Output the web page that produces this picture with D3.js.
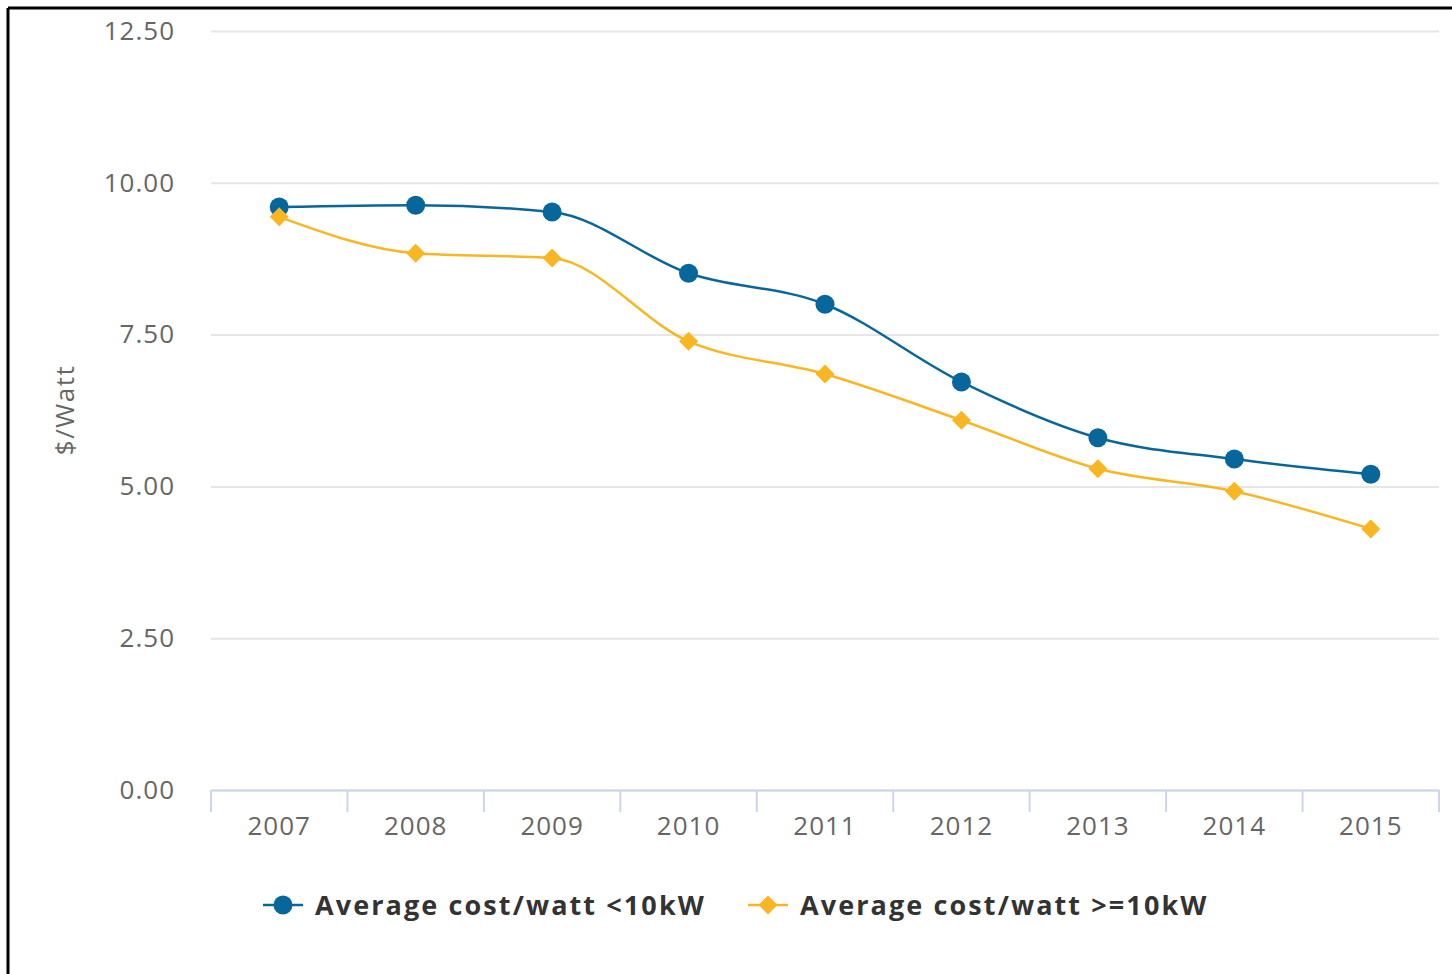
<!DOCTYPE html>
<html>
<head>
<meta charset="utf-8">
<script src="https://cdn.jsdelivr.net/npm/d3@7"></script>
<style>
  html, body { margin: 0; padding: 0; background: #fff; }
  svg { display: block; }
</style>
</head>
<body>
<svg id="chart" width="1452" height="974"></svg>
<script>
const years = ["2007", "2008", "2009", "2010", "2011", "2012", "2013", "2014", "2015"];
const smallSystems = [9.60, 9.63, 9.52, 8.51, 8.00, 6.72, 5.80, 5.45, 5.20];
const largeSystems = [9.44, 8.84, 8.76, 7.39, 6.85, 6.09, 5.29, 4.92, 4.30];
const yTicks = [0, 2.5, 5, 7.5, 10, 12.5];
const seriesNames = ["Average cost/watt <10kW", "Average cost/watt >=10kW"];
const seriesColors = ["#07679a", "#f9b623"];

const svg = d3.select("#chart");
const W = 1452, H = 974;
const plot = { left: 211, right: 1439, top: 31, bottom: 790 };
const font = "'Open Sans', 'DejaVu Sans', sans-serif";

// frame (top and left border)
svg.append("line").attr("x1", 8).attr("x2", W).attr("y1", 8).attr("y2", 8)
  .attr("stroke", "#000").attr("stroke-width", 3);
svg.append("line").attr("x1", 8).attr("x2", 8).attr("y1", 8).attr("y2", H)
  .attr("stroke", "#000").attr("stroke-width", 3);

const x = d3.scaleBand().domain(years).range([plot.left, plot.right]).padding(0);
const y = d3.scaleLinear().domain([0, 12.5]).range([plot.bottom, plot.top]);

// gridlines
const yAxis = d3.axisLeft(y).tickValues(yTicks)
  .tickSize(-(plot.right - plot.left)).tickFormat(d3.format(".2f")).tickPadding(36);
const gy = svg.append("g").attr("transform", `translate(${plot.left},0)`).call(yAxis);
gy.select(".domain").remove();
gy.selectAll(".tick line").attr("stroke", "#e6e6e6").attr("stroke-width", 2);
gy.selectAll(".tick text").attr("fill", "#666").attr("font-family", font)
  .attr("font-size", 26).attr("letter-spacing", 1).attr("dy", "0.32em");

// x axis
const xAxis = d3.axisBottom(x).tickSizeOuter(0).tickSizeInner(0).tickPadding(27);
const gx = svg.append("g").attr("transform", `translate(0,${plot.bottom})`).call(xAxis);
gx.select(".domain").attr("stroke", "#ccd6eb").attr("stroke-width", 2);
gx.selectAll(".tick text").attr("fill", "#666").attr("font-family", font)
  .attr("font-size", 26).attr("letter-spacing", 1);
// category boundary ticks
const bounds = years.map(d => x(d)).concat([x(years[years.length - 1]) + x.bandwidth()]);
svg.append("g").selectAll("line").data(bounds).join("line")
  .attr("x1", d => d).attr("x2", d => d)
  .attr("y1", plot.bottom).attr("y2", plot.bottom + 22)
  .attr("stroke", "#ccd6eb").attr("stroke-width", 2);

// y axis title
svg.append("text")
  .attr("transform", `translate(74,410) rotate(-90)`)
  .attr("text-anchor", "middle").attr("fill", "#666")
  .attr("font-family", font).attr("font-size", 26).attr("letter-spacing", 1.5)
  .text("$/Watt");

const cx = d => x(d) + x.bandwidth() / 2;
const line = d3.line().x((d, i) => cx(years[i])).y(d => y(d)).curve(d3.curveMonotoneX);

const diamond = (s) => `M0,${-s}L${s},0L0,${s}L${-s},0Z`;

// series 2 (orange) drawn first
svg.append("path").datum(largeSystems).attr("d", line)
  .attr("fill", "none").attr("stroke", seriesColors[1]).attr("stroke-width", 2.5);
svg.append("path").datum(smallSystems).attr("d", line)
  .attr("fill", "none").attr("stroke", seriesColors[0]).attr("stroke-width", 2.5);

svg.append("g").selectAll("circle").data(smallSystems).join("circle")
  .attr("cx", (d, i) => cx(years[i])).attr("cy", d => y(d)).attr("r", 9.5)
  .attr("fill", seriesColors[0]);
svg.append("g").selectAll("path").data(largeSystems).join("path")
  .attr("transform", (d, i) => `translate(${cx(years[i])},${y(d)})`)
  .attr("d", diamond(9.5)).attr("fill", seriesColors[1]);

// legend
const legend = [
  { name: seriesNames[0], color: seriesColors[0], x: 263, type: "circle" },
  { name: seriesNames[1], color: seriesColors[1], x: 748, type: "diamond" }
];
const ly = 905;
legend.forEach(l => {
  svg.append("line").attr("x1", l.x).attr("x2", l.x + 40).attr("y1", ly).attr("y2", ly)
    .attr("stroke", l.color).attr("stroke-width", 2.5);
  if (l.type === "circle") {
    svg.append("circle").attr("cx", l.x + 20).attr("cy", ly).attr("r", 9.5).attr("fill", l.color);
  } else {
    svg.append("path").attr("transform", `translate(${l.x + 20},${ly})`)
      .attr("d", diamond(9.5)).attr("fill", l.color);
  }
  svg.append("text").attr("x", l.x + 52).attr("y", ly + 10)
    .attr("fill", "#333").attr("font-family", font).attr("font-size", 27)
    .attr("font-weight", "bold").attr("letter-spacing", 2.1).text(l.name);
});
</script>
</body>
</html>
